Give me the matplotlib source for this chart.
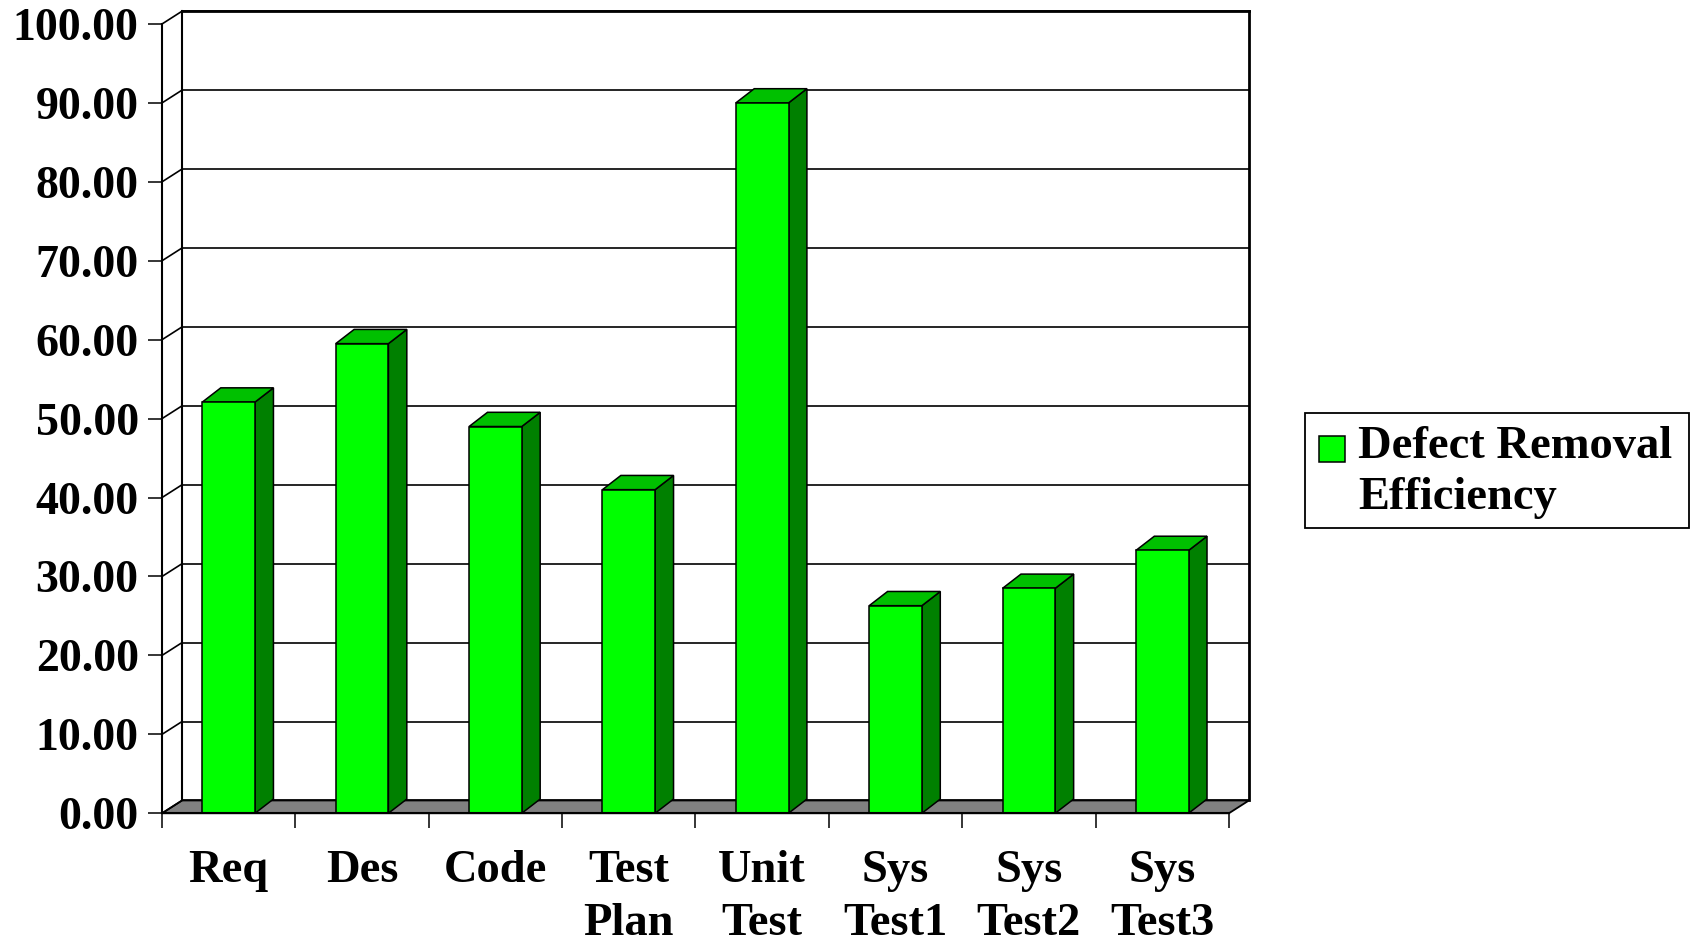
import matplotlib
matplotlib.use('Agg')
import matplotlib.pyplot as plt
from matplotlib.patches import Rectangle, Polygon

phases = ['Req', 'Des', 'Code', 'Test\nPlan', 'Unit\nTest',
          'Sys\nTest1', 'Sys\nTest2', 'Sys\nTest3']
efficiency = [52.1, 59.5, 49.0, 41.0, 90.0, 26.3, 28.5, 33.3]
y_ticks = [0, 10, 20, 30, 40, 50, 60, 70, 80, 90, 100]
series_name = 'Defect Removal\nEfficiency'

FACE = '#00FF00'
SIDE = '#008000'
TOP = '#00C000'
FLOOR = '#808080'
FONT = 'Liberation Serif'

plt.rcParams['font.family'] = FONT
plt.rcParams['font.weight'] = 'bold'

fig = plt.figure(figsize=(16.93, 9.44), dpi=100)
ax = fig.add_axes([0.0957, 0.1385, 0.6302, 0.8361])

n = len(phases)
ymax = y_ticks[-1]
ax.set_xlim(0, n)
ax.set_ylim(0, ymax)

# depth of the back wall and of the bars, in data units
wall_dx, wall_dy = 0.15, 1.62
bar_dx, bar_dy = 0.138, 1.8
bar_w = 0.395

# floor
ax.add_patch(Polygon([(0, 0), (n, 0), (n + wall_dx, wall_dy), (wall_dx, wall_dy)],
                     closed=True, facecolor=FLOOR, edgecolor='black',
                     linewidth=1.3, clip_on=False, zorder=1))

# back wall grid and left side wall
for t in y_ticks:
    ax.plot([wall_dx, n + wall_dx], [t + wall_dy, t + wall_dy], color='black',
            lw=1.2, clip_on=False, zorder=2)
    ax.plot([0, wall_dx], [t, t + wall_dy], color='black', lw=1.2,
            clip_on=False, zorder=2)
ax.plot([wall_dx, wall_dx], [wall_dy, ymax + wall_dy], color='black', lw=1.5,
        clip_on=False, zorder=2)
ax.plot([n + wall_dx, n + wall_dx], [wall_dy, ymax + wall_dy], color='black',
        lw=2.0, clip_on=False, zorder=2)
ax.plot([wall_dx, n + wall_dx], [ymax + wall_dy, ymax + wall_dy], color='black',
        lw=2.0, clip_on=False, zorder=2)

# 3D bars: front face, right side, top
for i, v in enumerate(efficiency):
    x0 = i + 0.5 - bar_w / 2
    x1 = x0 + bar_w
    ax.add_patch(Polygon([(x1, 0), (x1 + bar_dx, bar_dy), (x1 + bar_dx, v + bar_dy), (x1, v)],
                         closed=True, facecolor=SIDE, edgecolor='black',
                         linewidth=1.1, clip_on=False, zorder=3))
    ax.add_patch(Polygon([(x0, v), (x1, v), (x1 + bar_dx, v + bar_dy), (x0 + bar_dx, v + bar_dy)],
                         closed=True, facecolor=TOP, edgecolor='black',
                         linewidth=1.1, clip_on=False, zorder=3))
    ax.add_patch(Rectangle((x0, 0), bar_w, v, facecolor=FACE, edgecolor='black',
                           linewidth=1.1, clip_on=False, zorder=4))

for side in ['top', 'right']:
    ax.spines[side].set_visible(False)
for side in ['left', 'bottom']:
    ax.spines[side].set_linewidth(1.5)
    ax.spines[side].set_zorder(5)

ax.set_yticks(y_ticks)
ax.set_yticklabels([f'{t:.2f}' for t in y_ticks])
ax.tick_params(axis='y', direction='out', length=10.3, width=1.1, pad=6.5,
               labelsize=33)

ax.set_xticks(range(n + 1))
ax.set_xticklabels([])
ax.set_xticks([i + 0.5 for i in range(n)], minor=True)
ax.set_xticklabels(phases, minor=True, linespacing=1.34)
ax.tick_params(axis='x', which='major', direction='out', length=10.8, width=1.1)
ax.tick_params(axis='x', which='minor', length=0, pad=26.5, labelsize=33.5)
ax.set_facecolor('none')

# legend box
fig.patches.append(Rectangle((1305 / 1693, 1 - 527.7 / 944), 384 / 1693, 114.4 / 944,
                             transform=fig.transFigure, facecolor='white',
                             edgecolor='black', linewidth=1.3))
fig.patches.append(Rectangle((1318.5 / 1693, 1 - 462 / 944), 26.5 / 1693, 26 / 944,
                             transform=fig.transFigure, facecolor=FACE,
                             edgecolor='black', linewidth=1.1))
fig.text(1358 / 1693, 1 - 426 / 944, series_name, fontsize=33.5, fontweight='bold',
         va='top', ha='left', linespacing=1.28)

fig.savefig('out.png', dpi=100, facecolor='white')
